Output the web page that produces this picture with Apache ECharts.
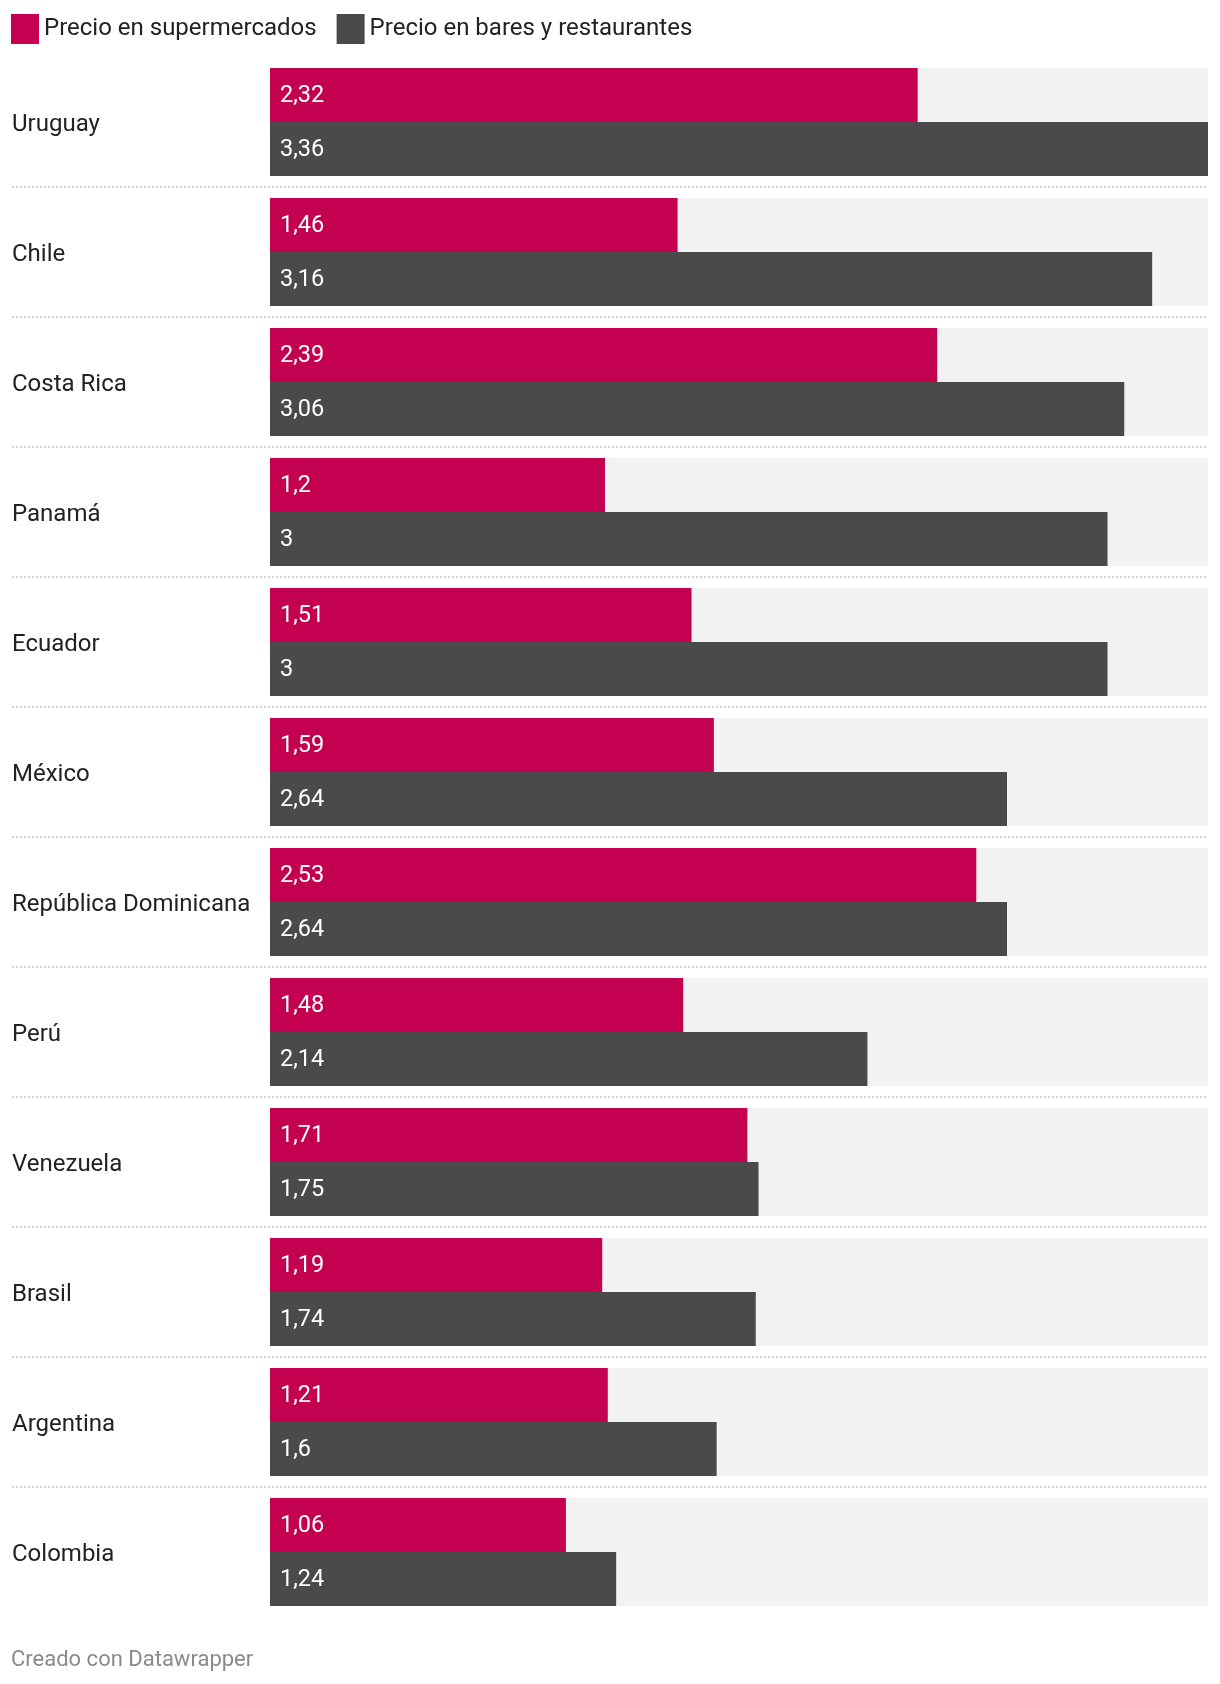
<!DOCTYPE html>
<html>
<head>
<meta charset="utf-8">
<script src="https://cdn.jsdelivr.net/npm/echarts@6/dist/echarts.min.js"></script>
<style>
html,body{margin:0;padding:0;background:#fff;}
#chart{width:1220px;height:1684px;}
</style>
</head>
<body>
<div id="chart"></div>
<script>
const categories = ['Uruguay','Chile','Costa Rica','Panamá','Ecuador','México','República Dominicana','Perú','Venezuela','Brasil','Argentina','Colombia'];
const supermercados = [2.32,1.46,2.39,1.2,1.51,1.59,2.53,1.48,1.71,1.19,1.21,1.06];
const bares = [3.36,3.16,3.06,3,3,2.64,2.64,2.14,1.75,1.74,1.6,1.24];
const seriesNames = ['Precio en supermercados','Precio en bares y restaurantes'];
const footer = 'Creado con Datawrapper';

const FONT = 'Roboto';
const fmt = v => String(v).replace('.', ',');
const chart = echarts.init(document.getElementById('chart'), null, {renderer:'canvas'});
const labelCfg = {
  show: true, position: 'insideLeft', distance: 10, offset: [0, 1],
  color: '#fff', fontFamily: FONT, fontSize: 23.5,
  formatter: p => fmt(p.value)
};
chart.setOption({
  animation: false,
  backgroundColor: '#fff',
  textStyle: {fontFamily: FONT},
  legend: {
    left: 11, top: 14, padding: 0, icon: 'rect', itemWidth: 28, itemHeight: 30, itemGap: 20,
    textStyle: {fontFamily: FONT, fontSize: 24, color: '#222'},
    data: seriesNames
  },
  graphic: [{
    type: 'text', left: 11, top: 1649,
    style: {text: footer, fontFamily: FONT, fontSize: 22, fill: '#8a8a8a'}
  }],
  grid: [
    {left: 270, right: 12, top: 57, height: 1560},
    {left: 12, right: 12, top: 187, height: 1300}
  ],
  xAxis: [
    {gridIndex: 0, type: 'value', min: 0, max: 3.36, show: false},
    {gridIndex: 1, type: 'value', min: 0, max: 1, show: false}
  ],
  yAxis: [
    {gridIndex: 0, type: 'category', data: categories, inverse: true,
     axisLine: {show: false}, axisTick: {show: false}, splitLine: {show: false},
     axisLabel: {align: 'left', margin: 258, color: '#222',
                 formatter: v => '{c|' + v + '}',
                 rich: {c: {fontFamily: FONT, fontSize: 24, color: '#222', padding: [5, 0, 0, 0]}}}},
    {gridIndex: 1, type: 'value', min: 1, max: 11, interval: 1,
     axisLine: {show: false}, axisTick: {show: false}, axisLabel: {show: false},
     splitLine: {show: true, lineStyle: {color: '#d4d4d4', width: 2, type: [2, 2]}}}
  ],
  series: [
    {name: seriesNames[0], type: 'bar', data: supermercados, barWidth: 54, barGap: '0%',
     itemStyle: {color: '#c40050'}, showBackground: true,
     backgroundStyle: {color: '#f2f2f2'}, label: labelCfg, z: 3},
    {name: seriesNames[1], type: 'bar', data: bares, barWidth: 54, barGap: '0%',
     itemStyle: {color: '#4a4a4a'}, showBackground: true,
     backgroundStyle: {color: '#f2f2f2'}, label: labelCfg, z: 3}
  ]
});
</script>
</body>
</html>
